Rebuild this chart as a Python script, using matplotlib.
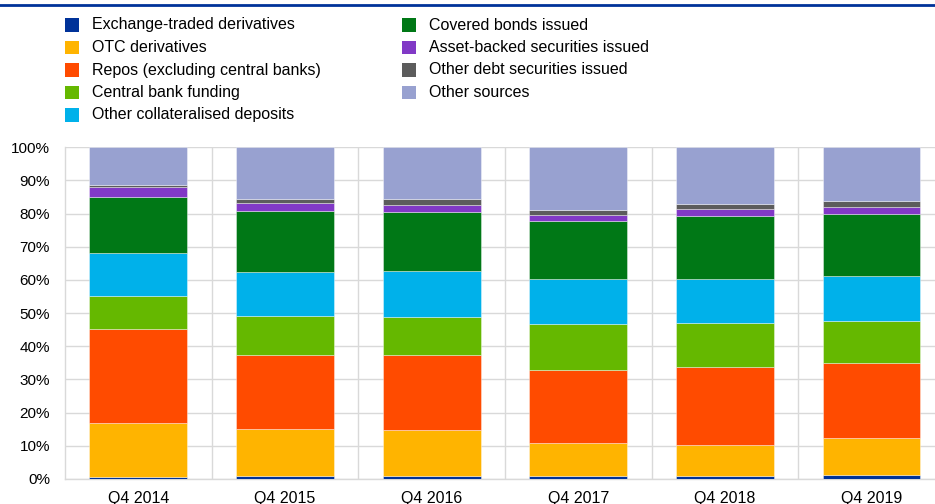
import matplotlib
matplotlib.use("Agg")
import matplotlib.pyplot as plt
from matplotlib.patches import Rectangle
from matplotlib.lines import Line2D
import numpy as np

plt.rcParams['font.family'] = ['Liberation Sans', 'DejaVu Sans']

quarters = ["Q4 2014", "Q4 2015", "Q4 2016", "Q4 2017", "Q4 2018", "Q4 2019"]

series_names = [
    "Exchange-traded derivatives",
    "OTC derivatives",
    "Repos (excluding central banks)",
    "Central bank funding",
    "Other collateralised deposits",
    "Covered bonds issued",
    "Asset-backed securities issued",
    "Other debt securities issued",
    "Other sources",
]

series_colors = [
    "#003299", "#FFB400", "#FF4B00", "#65B800", "#00B1EA",
    "#007816", "#8139C6", "#5C5C5C", "#98A1D0",
]

# shares of total encumbered sources, % (each quarter sums to 100)
exchange_traded = [0.6, 0.9, 0.9, 0.9, 0.9, 1.2]
otc_derivatives = [16.4, 14.2, 13.9, 10.1, 9.5, 11.1]
repos = [28.1, 22.3, 22.6, 21.8, 23.3, 22.6]
central_bank = [10.0, 11.7, 11.3, 14.0, 13.2, 12.6]
collateralised_deposits = [12.9, 13.3, 14.0, 13.5, 13.4, 13.6]
covered_bonds = [17.1, 18.5, 17.7, 17.4, 19.1, 18.9]
abs_issued = [2.8, 2.4, 2.3, 1.8, 1.9, 2.0]
other_debt = [0.7, 1.1, 1.7, 1.7, 1.6, 1.8]
other_sources = [11.4, 15.6, 15.6, 18.8, 17.1, 16.2]

series_values = [
    exchange_traded, otc_derivatives, repos, central_bank,
    collateralised_deposits, covered_bonds, abs_issued, other_debt,
    other_sources,
]

W, H = 935, 504
fig = plt.figure(figsize=(W / 100, H / 100), dpi=100)

# plot area in pixels: left 65, right edge of figure, y from 147 to 479
ax = fig.add_axes([65 / W, (H - 479) / H, 1 - 65 / W, (479 - 147.3) / H])

x = np.arange(len(quarters))
bottom = np.zeros(len(quarters))
for vals, color in zip(series_values, series_colors):
    vals = np.array(vals)
    ax.bar(x, vals, width=0.668, bottom=bottom, color=color,
           edgecolor=(1, 1, 1, 0.45), linewidth=0.6, zorder=3)
    bottom += vals

ax.set_ylim(0, 100)
ax.set_xlim(-0.5, 5.433)
ax.set_yticks(np.arange(0, 101, 10))
ax.set_yticklabels([f"{v}%" for v in range(0, 101, 10)])
ax.set_xticks(x)
ax.set_xticklabels(quarters)

# horizontal grid plus vertical separators between quarters
ax.grid(axis='y', color='#d9d9d9', linewidth=1.0, zorder=0)
ax.set_xticks(np.arange(0.5, len(quarters) - 1, 1), minor=True)
ax.grid(axis='x', which='minor', color='#d9d9d9', linewidth=1.0, zorder=0)
ax.grid(axis='x', which='major', visible=False)

for side in ('top', 'right'):
    ax.spines[side].set_visible(False)
for side in ('left', 'bottom'):
    ax.spines[side].set_color('#d9d9d9')
    ax.spines[side].set_linewidth(1.0)

ax.tick_params(axis='both', which='both', length=0, colors='#000000')
ax.tick_params(axis='y', pad=10.8, labelsize=11)
ax.tick_params(axis='x', pad=9.0, labelsize=11.5)

# blue rule across the top
fig.add_artist(Line2D([0, 1], [1 - 5.3 / H, 1 - 5.3 / H], color='#003299',
                      linewidth=2.0, transform=fig.transFigure))

# legend drawn by hand, two columns
row_y = [25, 47.5, 70, 92.5, 115]
cols = [(65, 91.7), (401.7, 429.3)]
for i, (name, color) in enumerate(zip(series_names, series_colors)):
    col, row = divmod(i, 5)
    mx, tx = cols[col]
    cy = row_y[row]
    fig.add_artist(Rectangle((mx / W, (H - cy - 6.7) / H), 14 / W, 13.4 / H,
                             facecolor=color, edgecolor='none',
                             transform=fig.transFigure))
    fig.text(tx / W, (H - cy) / H, name, fontsize=11.5, va='center',
             ha='left', color='#000000')

fig.savefig("out.png", dpi=100)
